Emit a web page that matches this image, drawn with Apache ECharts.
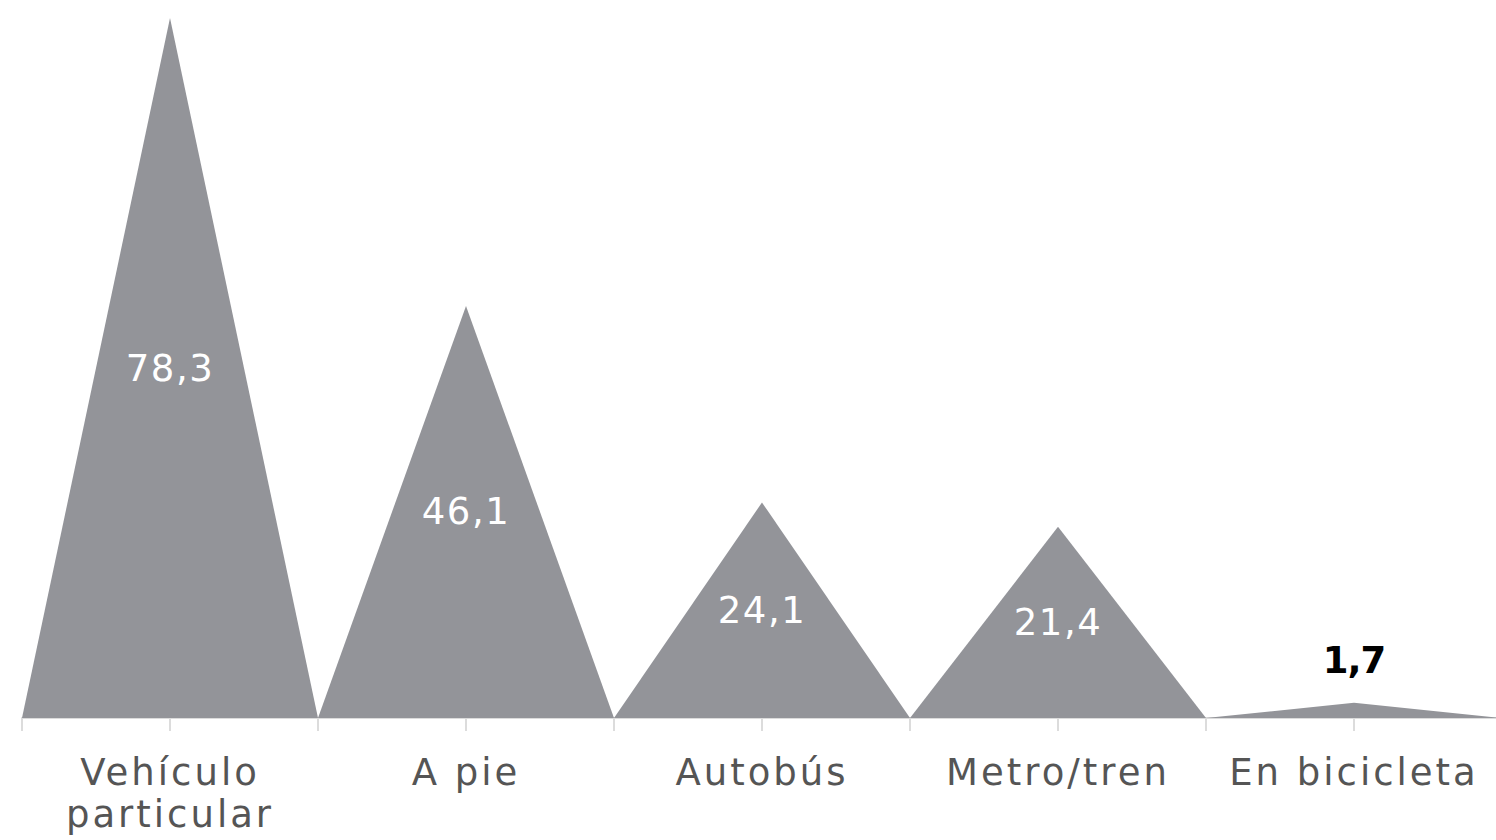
<!DOCTYPE html>
<html>
<head>
<meta charset="utf-8">
<script src="https://cdn.jsdelivr.net/npm/echarts@6/dist/echarts.min.js"></script>
<style>
  html, body { margin: 0; padding: 0; background: #fff; }
  #chart { width: 1496px; height: 840px; }
  #chart text { letter-spacing: 3px; }
  #chart text[fill="#fff"] { letter-spacing: 1.5px; }
  #chart text[fill="#000"] { letter-spacing: -1px; }
</style>
</head>
<body>
<div id="chart"></div>
<script>
const categories = ["Vehículo\nparticular", "A pie", "Autobús", "Metro/tren", "En bicicleta"];
const values = [78.3, 46.1, 24.1, 21.4, 1.7];
// half-band slots, only used to draw ticks at band edges and centers
const tickSlots = ["", "", "", "", "", "", "", "", "", ""];

const fmt = (v) => String(v).replace(".", ",");

const myChart = echarts.init(document.getElementById("chart"), null, { renderer: "svg" });
myChart.setOption({
  animation: false,
  grid: {
    left: 22,
    top: 18,
    width: 1480,
    bottom: 122,
    outerBoundsMode: "none",
  },
  xAxis: [
    {
      type: "category",
      data: categories,
      axisLine: { lineStyle: { color: "#dcdcdc", width: 2 } },
      axisTick: { show: false },
      axisLabel: {
        interval: 0,
        margin: 33,
        color: "#555",
        fontFamily: "DejaVu Sans",
        fontSize: 37,
        lineHeight: 42,
      },
    },
    {
      type: "category",
      position: "bottom",
      data: tickSlots,
      axisLine: { show: false },
      axisLabel: { show: false },
      axisTick: { show: true, length: 13, interval: 0, lineStyle: { color: "#dcdcdc", width: 2 } },
    },
  ],
  yAxis: {
    type: "value",
    min: 0,
    max: 78.3,
    show: false,
    splitLine: { show: false },
  },
  series: [
    {
      type: "pictorialBar",
      symbol: "triangle",
      symbolSize: ["100%", "100%"],
      barCategoryGap: "0%",
      itemStyle: { color: "#939499" },
      data: values.map((v, i) =>
        i === values.length - 1
          ? {
              value: v,
              label: { position: "top", distance: 24, color: "#000", fontWeight: "bold" },
            }
          : v
      ),
      label: {
        show: true,
        position: "inside",
        color: "#fff",
        fontFamily: "DejaVu Sans",
        fontSize: 37,
        formatter: (p) => fmt(p.value),
      },
    },
  ],
});
</script>
</body>
</html>
